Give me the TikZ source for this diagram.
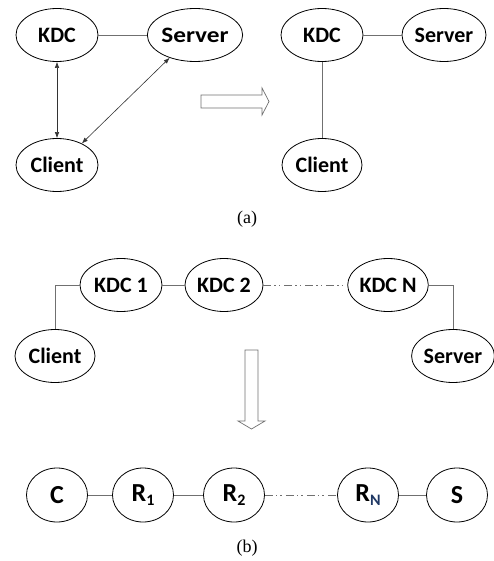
\documentclass[tikz,border=0pt]{standalone}
\usepackage{fontspec}
\setmainfont{Liberation Serif}
\newfontfamily\labelfont{Carlito}
\usetikzlibrary{shapes.geometric,arrows.meta}
\definecolor{linkgray}{RGB}{112,112,112}
\definecolor{subblue}{RGB}{31,56,100}
\tikzset{
  ent/.style={ellipse, draw=black, line width=0.8pt, inner sep=0pt,
    font=\labelfont\bfseries\fontsize{22}{22}\selectfont},
  wide/.style={ent, minimum width=82pt, minimum height=53pt},
  small/.style={ent, minimum width=61pt, minimum height=54pt,
    font=\labelfont\bfseries\fontsize{26}{26}\selectfont},
  link/.style={draw=linkgray, line width=0.7pt},
  twoway/.style={draw=black!80, line width=0.6pt, {Latex[length=6pt,width=4.5pt]}-{Latex[length=6pt,width=4.5pt]}},
  chain/.style={link, dash pattern=on 8pt off 3pt on 1.5pt off 3pt on 1.5pt off 4pt},
  hollow/.style={draw=linkgray, fill=white, line width=0.7pt},
  figcap/.style={font=\fontsize{18}{18}\selectfont}
}
\newcommand{\sub}[2][black]{\raisebox{-3.5pt}{\textcolor{#1}{\fontsize{16}{16}\selectfont #2}}}
\begin{document}
\begin{tikzpicture}[x=1pt,y=-1pt]
\useasboundingbox (0,0) rectangle (493,561);

% (a) left: three parties talking directly
\node[wide] (kdcA) at (57,35) {KDC};
\node[wide, minimum width=94pt] (srvA) at (195,35) {\scalebox{1.15}[1]{Server}};
\node[wide] (cliA) at (57,165) {Client};
\draw[link] (kdcA) -- (srvA);
\draw[twoway] (kdcA.south) -- (cliA.north);
\draw[twoway] (srvA.222) -- (cliA.41);

% transformation arrow
\draw[hollow] (201,95) -- (262,95) -- (262,88) -- (269,101.5) -- (262,115) -- (262,108) -- (201,108) -- cycle;

% (a) right: star around the KDC
\node[wide] (kdcB) at (322,35) {KDC};
\node[wide, minimum width=84pt] (srvB) at (444,35) {Server};
\node[wide, minimum width=80pt] (cliB) at (322,165) {Client};
\draw[link] (kdcB) -- (srvB);
\draw[link] (kdcB) -- (cliB);

\node[figcap] (capA) at (247,219) {(a)};

% (b) top: chain of KDCs
\node[wide] (kdc1) at (121,285) {KDC 1};
\node[wide, minimum width=78pt] (kdc2) at (224,285) {KDC 2};
\node[wide, minimum width=79pt] (kdcN) at (388,285) {KDC N};
\node[wide, minimum width=80pt] (cliC) at (55,356) {Client};
\node[wide, minimum width=80pt] (srvC) at (453,356) {Server};
\draw[link] (kdc1) -- (kdc2);
\draw[chain] (kdc2) -- (kdcN);
\draw[link] (cliC.north) |- (kdc1.west);
\draw[link] (kdcN.east) -| (srvC.north);

% downward transformation arrow
\draw[hollow] (245,350) -- (258,350) -- (258,421) -- (265,421) -- (251.5,429) -- (238,421) -- (245,421) -- cycle;

% (b) bottom: abstract relay chain
\node[small] (c) at (57,495) {C};
\node[small] (r1) at (143,495) {R\sub{1}};
\node[small] (r2) at (234,495) {R\sub{2}};
\node[small] (rn) at (368,495) {R\sub[subblue]{N}};
\node[small] (s) at (457,495) {S};
\draw[link] (c) -- (r1);
\draw[link] (r1) -- (r2);
\draw[chain] (r2) -- (rn);
\draw[link] (rn) -- (s);

\node[figcap] (capB) at (247,548) {(b)};
\end{tikzpicture}
\end{document}
